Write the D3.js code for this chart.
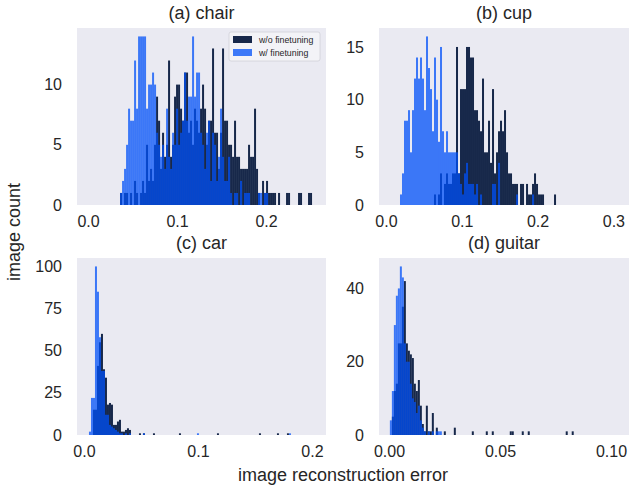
<!DOCTYPE html>
<html><head><meta charset="utf-8">
<script src="https://cdn.jsdelivr.net/npm/d3@7"></script>
<style>
body{margin:0;background:#fff;}
svg text{font-family:"Liberation Sans",Arial,sans-serif;fill:#262626;}
</style></head>
<body><svg id="c" width="642" height="489"></svg>
<script>
// ---------- data ----------
const titles = ["(a) chair", "(b) cup", "(c) car", "(d) guitar"];
const seriesNames = ["w/o finetuning", "w/ finetuning"];
const xTicks = [[0.0, 0.1, 0.2], [0.0, 0.1, 0.2, 0.3], [0.0, 0.1, 0.2], [0.00, 0.05, 0.10]];
const xTickLabels = [["0.0","0.1","0.2"], ["0.0","0.1","0.2","0.3"], ["0.0","0.1","0.2"], ["0.00","0.05","0.10"]];
const yTicks = [[0, 5, 10], [0, 5, 10, 15], [0, 25, 50, 75, 100], [0, 20, 40]];
const xDomains = [[-0.0124, 0.2674], [-0.0092, 0.3206], [-0.0061, 0.2123], [-0.0045, 0.1081]];
const yMax = [14.7, 16.8, 105, 48.3];
// histogram bin edges: first edge and bin width per panel
const binStart = [0.0360, 0.0185, 0.0044, 0.0004];
const binWidth = [0.002247, 0.002639, 0.001754, 0.0009];

// chair
const chairWo = [1,0,1,1,0,1,0,2,1,0,1,2,1,5,2,3,2,5,9,7,3,6,4,5,12,4,5,9,10,10,8,7,11,11,6,7,5,8,7,6,8,10,8,5,7,7,13,6,6,3,6,13,7,7,5,5,4,7,4,4,3,3,3,3,5,4,4,8,3,1,0,2,1,2,1,1,1,1,0,1,0,0,0,1,1,0,0,0,0,1,1,0,0,0,1,1];
const chairW  = [1,2,3,5,8,7,7,12,8,14,14,14,14,8,10,10,11,10,6,5,4,5,3,8,4,3,6,5,8,5,6,7,11,7,9,9,14,9,11,11,6,5,3,6,7,2,6,5,2,4,8,4,2,2,4,1,0,1,1,0,2,0,1,1,1,0,0,0,0,1,1,0,1,1];
// cup
const cupWo = [0,0,0,0,0,0,0,0,0,0,0,0,0,0,0,0,0,1,0,1,3,0,2,3,2,2,3,3,15,3,11,11,11,15,15,14,14,9,9,8,7,12,5,5,8,4,11,3,5,7,8,7,9,5,3,3,2,2,2,0,2,2,0,2,1,1,2,3,2,1,1,1,0,0,0,0,0,1];
const cupW  = [1,3,8,8,9,5,9,12,14,12,14,12,9,16,13,11,7,14,10,6,15,7,5,7,5,5,5,5,5,3,2,1,3,4,2,2,2,1,2,0,1,0,0,0,0,0,2,2,0,4,0,0,0,0,0,0,0,0,1,0,0,0,0,0,0,0,1];
// car
const carWo = [0,0,15,15,41,55,60,39,34,18,19,18,6,6,8,9,2,2,3,4,3,0,0,0,0,1,0,1,0,0,0,0,1,0,0,0,0,0,0,0,0,0,0,0,0,1,0,0,0,0,0,0,0,0,0,0,0,0,0,0,0,0,0,0,1,0,0,0,0,0,0,0,0,0,0,0,0,0,0,0,0,0,0,0,0,1,0,0,0,0,0,0,0,0,1,0,0,0,0,1];
const carW  = [2,22,22,100,85,58,38,38,12,12,6,5,4,3,2,1,1,0,1,0,1,0,0,0,0,0,0,1,0,0,0,0,0,0,0,0,0,0,0,0,0,0,0,0,0,0,0,0,0,0,0,0,0,0,1,0,0,0,0,0,0,0,0,0,0,0,0,0,0,0,0,0,0,0,0,0,0,0,0,0,0,0,0,0,0,0,0,0,0,0,0,0,0,0,0,0,0,0,0,0,1];
// guitar
const guitarWo = [0,5,12,14,25,25,35,42,25,23,22,21,14,12,15,8,3,1,8,1,1,6,0,2,0,0,0,1,0,0,0,0,2,0,0,0,0,0,0,0,0,1,0,0,0,0,0,0,1,0,0,1,0,0,0,0,0,0,0,0,1,1,0,0,0,0,1,0,0,1,0,0,0,0,0,0,0,0,0,0,0,0,0,0,0,0,0,0,1,0,0,1];
const guitarW  = [4,12,30,38,40,46,43,25,20,20,14,10,9,6,8,4,2,1,0,1,0,1,0,1,1,1];

const countsWo = [chairWo, cupWo, carWo, guitarWo];
const countsW  = [chairW, cupW, carW, guitarW];

// ---------- layout ----------
const colors = ["#17284a", "#0050f8"];
const panels = [
  {x0: 77, x1: 326, y0: 28, y1: 205},
  {x0: 379, x1: 629, y0: 28, y1: 205},
  {x0: 77, x1: 326, y0: 258, y1: 435},
  {x0: 379, x1: 629, y0: 258, y1: 435}
];
const tickFont = 16, labelFont = 18;
const svg = d3.select("#c");

panels.forEach((p, i) => {
  const x = d3.scaleLinear().domain(xDomains[i]).range([p.x0, p.x1]);
  const y = d3.scaleLinear().domain([0, yMax[i]]).range([p.y1, p.y0]);
  const g = svg.append("g");
  g.append("rect").attr("x", p.x0).attr("y", p.y0).attr("width", p.x1 - p.x0).attr("height", p.y1 - p.y0).attr("fill", "#eaeaf2");
  const clip = "clip" + i;
  svg.append("clipPath").attr("id", clip).append("rect").attr("x", p.x0).attr("y", p.y0).attr("width", p.x1 - p.x0).attr("height", p.y1 - p.y0);
  const plot = g.append("g").attr("clip-path", `url(#${clip})`);
  [countsWo[i], countsW[i]].forEach((arr, s) => {
    const bins = arr.map((c, k) => ({lo: binStart[i] + k * binWidth[i], hi: binStart[i] + (k + 1) * binWidth[i], c})).filter(d => d.c > 0);
    plot.append("g").selectAll("rect").data(bins).join("rect")
      .attr("x", d => x(d.lo)).attr("width", d => x(d.hi) - x(d.lo))
      .attr("y", d => y(d.c)).attr("height", d => y(0) - y(d.c))
      .attr("fill", colors[s]).attr("fill-opacity", s === 1 ? 0.75 : 1);
  });
  // axes
  const xa = d3.axisBottom(x).tickValues(xTicks[i]).tickFormat((d, j) => xTickLabels[i][j]).tickSize(0).tickPadding(11);
  const gx = g.append("g").attr("transform", `translate(0,${p.y1})`).call(xa);
  gx.select(".domain").remove();
  gx.selectAll("text").attr("font-size", tickFont).style("fill", "#262626").attr("font-family", "Liberation Sans, Arial, sans-serif");
  const ya = d3.axisLeft(y).tickValues(yTicks[i]).tickSize(0).tickPadding(15);
  const gy = g.append("g").attr("transform", `translate(${p.x0},0)`).call(ya);
  gy.select(".domain").remove();
  gy.selectAll("text").attr("font-size", tickFont).style("fill", "#262626").attr("font-family", "Liberation Sans, Arial, sans-serif");
  svg.append("text").attr("x", (p.x0 + p.x1) / 2).attr("y", p.y0 - 9).attr("text-anchor", "middle").attr("font-size", labelFont).text(titles[i]);
});

// labels
svg.append("text").attr("transform", "translate(20,232) rotate(-90)").attr("text-anchor", "middle").attr("font-size", labelFont).text("image count");
svg.append("text").attr("x", 343).attr("y", 481).attr("text-anchor", "middle").attr("font-size", labelFont).text("image reconstruction error");

// legend
const lg = svg.append("g").attr("transform", "translate(229,32)");
lg.append("rect").attr("width", 91).attr("height", 29).attr("rx", 2).attr("fill", "#f4f4f8").attr("fill-opacity", 0.85).attr("stroke", "#d0d0d8").attr("stroke-width", 0.8);
seriesNames.forEach((n, j) => {
  lg.append("rect").attr("x", 4).attr("y", 4 + j * 13).attr("width", 19).attr("height", 7).attr("fill", colors[j]).attr("fill-opacity", j === 1 ? 0.75 : 1);
  lg.append("text").attr("x", 30).attr("y", 11 + j * 13).attr("font-size", 8.8).text(n);
});
</script></body></html>
